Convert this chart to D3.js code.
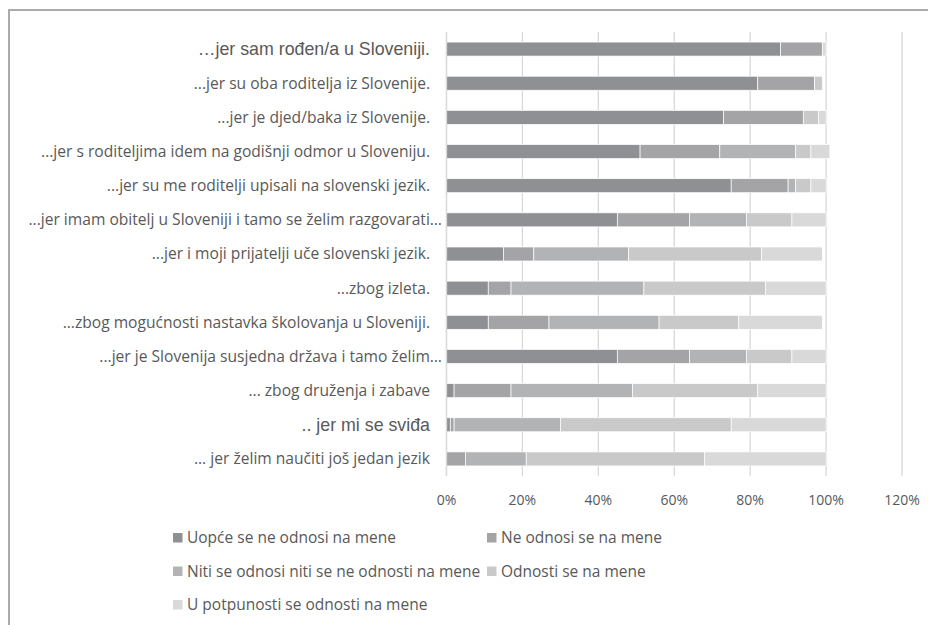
<!DOCTYPE html>
<html>
<head>
<meta charset="utf-8">
<script src="https://cdn.jsdelivr.net/npm/d3@7"></script>
<style>
    body { margin: 0; background: #fff; }
    text { fill: #595959; }
</style>
</head>
<body>
<div id="chart"></div>
<script>
var categories = [
    "…jer sam rođen/a u Sloveniji.",
    "...jer su oba roditelja iz Slovenije.",
    "...jer je djed/baka iz Slovenije.",
    "...jer s roditeljima idem na godišnji odmor u Sloveniju.",
    "...jer su me roditelji upisali na slovenski jezik.",
    "...jer imam obitelj u Sloveniji i tamo se želim razgovarati…",
    "...jer i moji prijatelji uče slovenski jezik.",
    "...zbog izleta.",
    "...zbog mogućnosti nastavka školovanja u Sloveniji.",
    "...jer je Slovenija susjedna država i tamo želim…",
    "... zbog druženja i zabave",
    ".. jer mi se sviđa",
    "... jer želim naučiti još jedan jezik"
];
// rows drawn in a different font in the original
var arialRows = [0, 11];

var seriesNames = [
    "Uopće se ne odnosi na mene",
    "Ne odnosi se na mene",
    "Niti se odnosi niti se ne odnosti na mene",
    "Odnosti se na mene",
    "U potpunosti se odnosti na mene"
];
var seriesColors = ["#8f9094", "#a4a4a7", "#b2b3b5", "#c9c9ca", "#d9d9da"];

var uopce       = [88, 82, 73, 51, 75, 45, 15, 11, 11, 45, 2, 1, 0];
var neOdnosi    = [11, 15, 21, 21, 15, 19, 8, 6, 16, 19, 15, 1, 5];
var niti        = [0, 0, 0, 20, 2, 15, 25, 35, 29, 15, 32, 28, 16];
var odnosi      = [0, 2, 4, 4, 4, 12, 35, 32, 21, 12, 33, 45, 47];
var uPotpunosti = [1, 0, 2, 5, 4, 9, 16, 16, 22, 9, 18, 25, 32];

var xTicks = [0, 20, 40, 60, 80, 100, 120];

var series = [uopce, neOdnosi, niti, odnosi, uPotpunosti];
var rows = categories.map(function (c, i) {
    var r = {cat: c};
    for (var s = 0; s < seriesNames.length; s++) {
        r[seriesNames[s]] = series[s][i];
    }
    return r;
});

var W = 928, H = 625;
var bodyFont = "'Open Sans', 'Noto Sans', sans-serif";
var arialFont = "'Liberation Sans', Arial, sans-serif";

var svg = d3.select("#chart").append("svg")
    .attr("width", W)
    .attr("height", H);

// outer frame
svg.append("rect")
    .attr("x", 9).attr("y", 10)
    .attr("width", W + 20).attr("height", H + 20)
    .attr("fill", "none")
    .attr("stroke", "#ababab")
    .attr("stroke-width", 2);

var xScale = d3.scaleLinear().domain([0, 120]).range([446.5, 902]);
var yScale = d3.scaleBand().domain(categories).range([32, 476])
    .paddingInner(0.59).paddingOuter(0.295);

// gridlines
svg.append("g").selectAll("line")
    .data(xTicks)
    .enter().append("line")
    .attr("x1", function (d) { return xScale(d); })
    .attr("x2", function (d) { return xScale(d); })
    .attr("y1", 32).attr("y2", 476)
    .attr("stroke", "#d9d9d9")
    .attr("stroke-width", 1.3);

var stack = d3.stack().keys(seriesNames);

var layer = svg.selectAll(".layer")
    .data(stack(rows))
    .enter().append("g")
    .attr("class", "layer")
    .attr("fill", function (d, i) { return seriesColors[i]; });

layer.selectAll("rect")
    .data(function (d) { return d; })
    .enter().append("rect")
    .filter(function (d) { return d[1] > d[0]; })
    .attr("x", function (d) { return xScale(d[0]); })
    .attr("y", function (d) { return yScale(d.data.cat); })
    .attr("width", function (d) { return xScale(d[1]) - xScale(d[0]); })
    .attr("height", yScale.bandwidth())
    .attr("stroke", "#fff")
    .attr("stroke-width", 0.7);

// left axis line
svg.append("line")
    .attr("x1", xScale(0)).attr("x2", xScale(0))
    .attr("y1", 32).attr("y2", 476)
    .attr("stroke", "#d9d9d9")
    .attr("stroke-width", 1.3);

// category labels
svg.append("g").selectAll("text")
    .data(categories)
    .enter().append("text")
    .attr("x", function (d, i) { return i == 5 || i == 9 ? 442 : 430; })
    .attr("y", function (d) { return yScale(d) + yScale.bandwidth() / 2; })
    .attr("dy", "0.35em")
    .attr("text-anchor", "end")
    .style("font-family", function (d, i) {
        return arialRows.indexOf(i) >= 0 ? arialFont : bodyFont;
    })
    .style("font-size", function (d, i) {
        return arialRows.indexOf(i) >= 0 ? "17.8px" : "15.6px";
    })
    .text(function (d) { return d; });

// x tick labels
svg.append("g").selectAll("text")
    .data(xTicks)
    .enter().append("text")
    .attr("x", function (d) { return xScale(d); })
    .attr("y", 500)
    .attr("dy", "0.35em")
    .attr("text-anchor", "middle")
    .style("font-family", bodyFont)
    .style("font-size", "14px")
    .text(function (d) { return d + "%"; });

// legend
var legendX = [173, 487];
var legendY = [538, 571.5, 605];
for (var index = 0; index < seriesNames.length; index++) {
    var lx = legendX[index % 2];
    var ly = legendY[Math.floor(index / 2)];
    svg.append("rect")
        .attr("x", lx)
        .attr("y", ly - 5)
        .attr("width", 9.5)
        .attr("height", 9.5)
        .attr("fill", seriesColors[index]);
    svg.append("text")
        .attr("x", lx + 14)
        .attr("y", ly)
        .attr("dy", "0.35em")
        .style("font-family", bodyFont)
        .style("font-size", "15.5px")
        .text(seriesNames[index]);
}
</script>
</body>
</html>
